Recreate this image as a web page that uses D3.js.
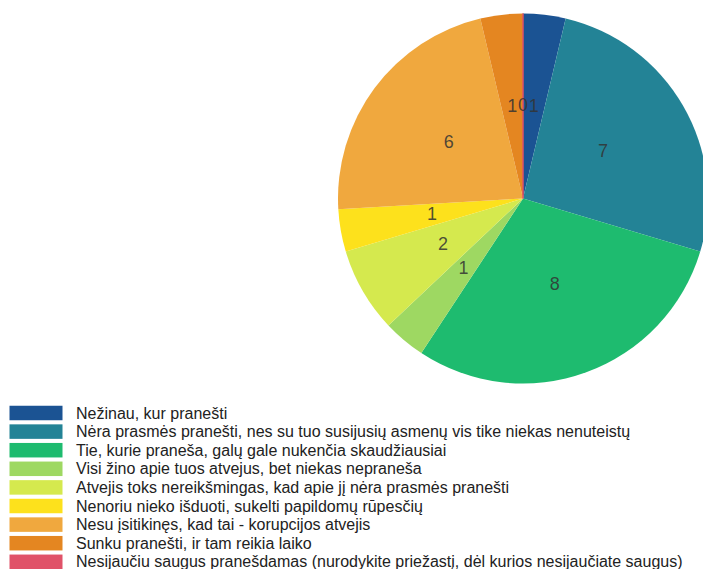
<!DOCTYPE html>
<html>
<head>
<meta charset="utf-8">
<script src="https://cdn.jsdelivr.net/npm/d3@7"></script>
<style>
  body { margin: 0; background: #fff; }
  svg { display: block; font-family: "Liberation Sans", Arial, sans-serif; }
</style>
</head>
<body>
<svg id="chart" width="703" height="569"></svg>
<script>
// answers (order as in the legend)
const categories = [
    "Nežinau, kur pranešti",
    "Nėra prasmės pranešti, nes su tuo susijusių asmenų vis tike niekas nenuteistų",
    "Tie, kurie praneša, galų gale nukenčia skaudžiausiai",
    "Visi žino apie tuos atvejus, bet niekas nepraneša",
    "Atvejis toks nereikšmingas, kad apie jį nėra prasmės pranešti",
    "Nenoriu nieko išduoti, sukelti papildomų rūpesčių",
    "Nesu įsitikinęs, kad tai - korupcijos atvejis",
    "Sunku pranešti, ir tam reikia laiko",
    "Nesijaučiu saugus pranešdamas (nurodykite priežastį, dėl kurios nesijaučiate saugus)"
];
const counts = [1, 7, 8, 1, 2, 1, 6, 1, 0];
const colors = ["#1b5393", "#238396", "#1ebb6f", "#9ed862", "#d5e94e",
                "#fde11c", "#f0a83e", "#e48621", "#e05268"];

const svg = d3.select("#chart");
const cx = 523, cy = 198.5, radius = 185;

let color = d3.scaleOrdinal().domain(categories).range(colors);

let pie = d3.pie()
    .sort(null)
    .value(function(d, i) { return counts[i]; });

let arcs = pie(categories);
let arc = d3.arc().innerRadius(0).outerRadius(radius);
let labelArc = d3.arc().innerRadius(radius * 0.5).outerRadius(radius * 0.5);

let g = svg.append("g").attr("transform", `translate(${cx},${cy})`);

g.selectAll("path")
    .data(arcs)
    .enter()
    .append("path")
    .attr("d", arc)
    .attr("fill", function(d) { return color(d.data); })
    .attr("stroke", function(d) { return d.value === 0 ? color(d.data) : "none"; })
    .attr("stroke-width", 1);

g.selectAll("text")
    .data(arcs)
    .enter()
    .append("text")
    .attr("transform", function(d) { return `translate(${labelArc.centroid(d)})`; })
    .attr("text-anchor", "middle")
    .attr("dy", "0.28em")
    .attr("font-size", 18)
    .attr("fill", "#333")
    .attr("fill-opacity", 0.85)
    .text(function(d) { return d.value; });

// legend
let legend = svg.append("g");
let rowH = 18.6;
let rows = legend.selectAll("g")
    .data(categories)
    .enter()
    .append("g")
    .attr("transform", function(d, i) { return `translate(0,${413 + i * rowH})`; });

rows.append("rect")
    .attr("x", 9.5)
    .attr("y", -7.25)
    .attr("width", 53)
    .attr("height", 14.5)
    .attr("fill", function(d) { return color(d); });

rows.append("text")
    .attr("x", 76)
    .attr("dy", "0.35em")
    .attr("font-size", 16)
    .attr("fill", "#222")
    .text(function(d) { return d; });
</script>
</body>
</html>
